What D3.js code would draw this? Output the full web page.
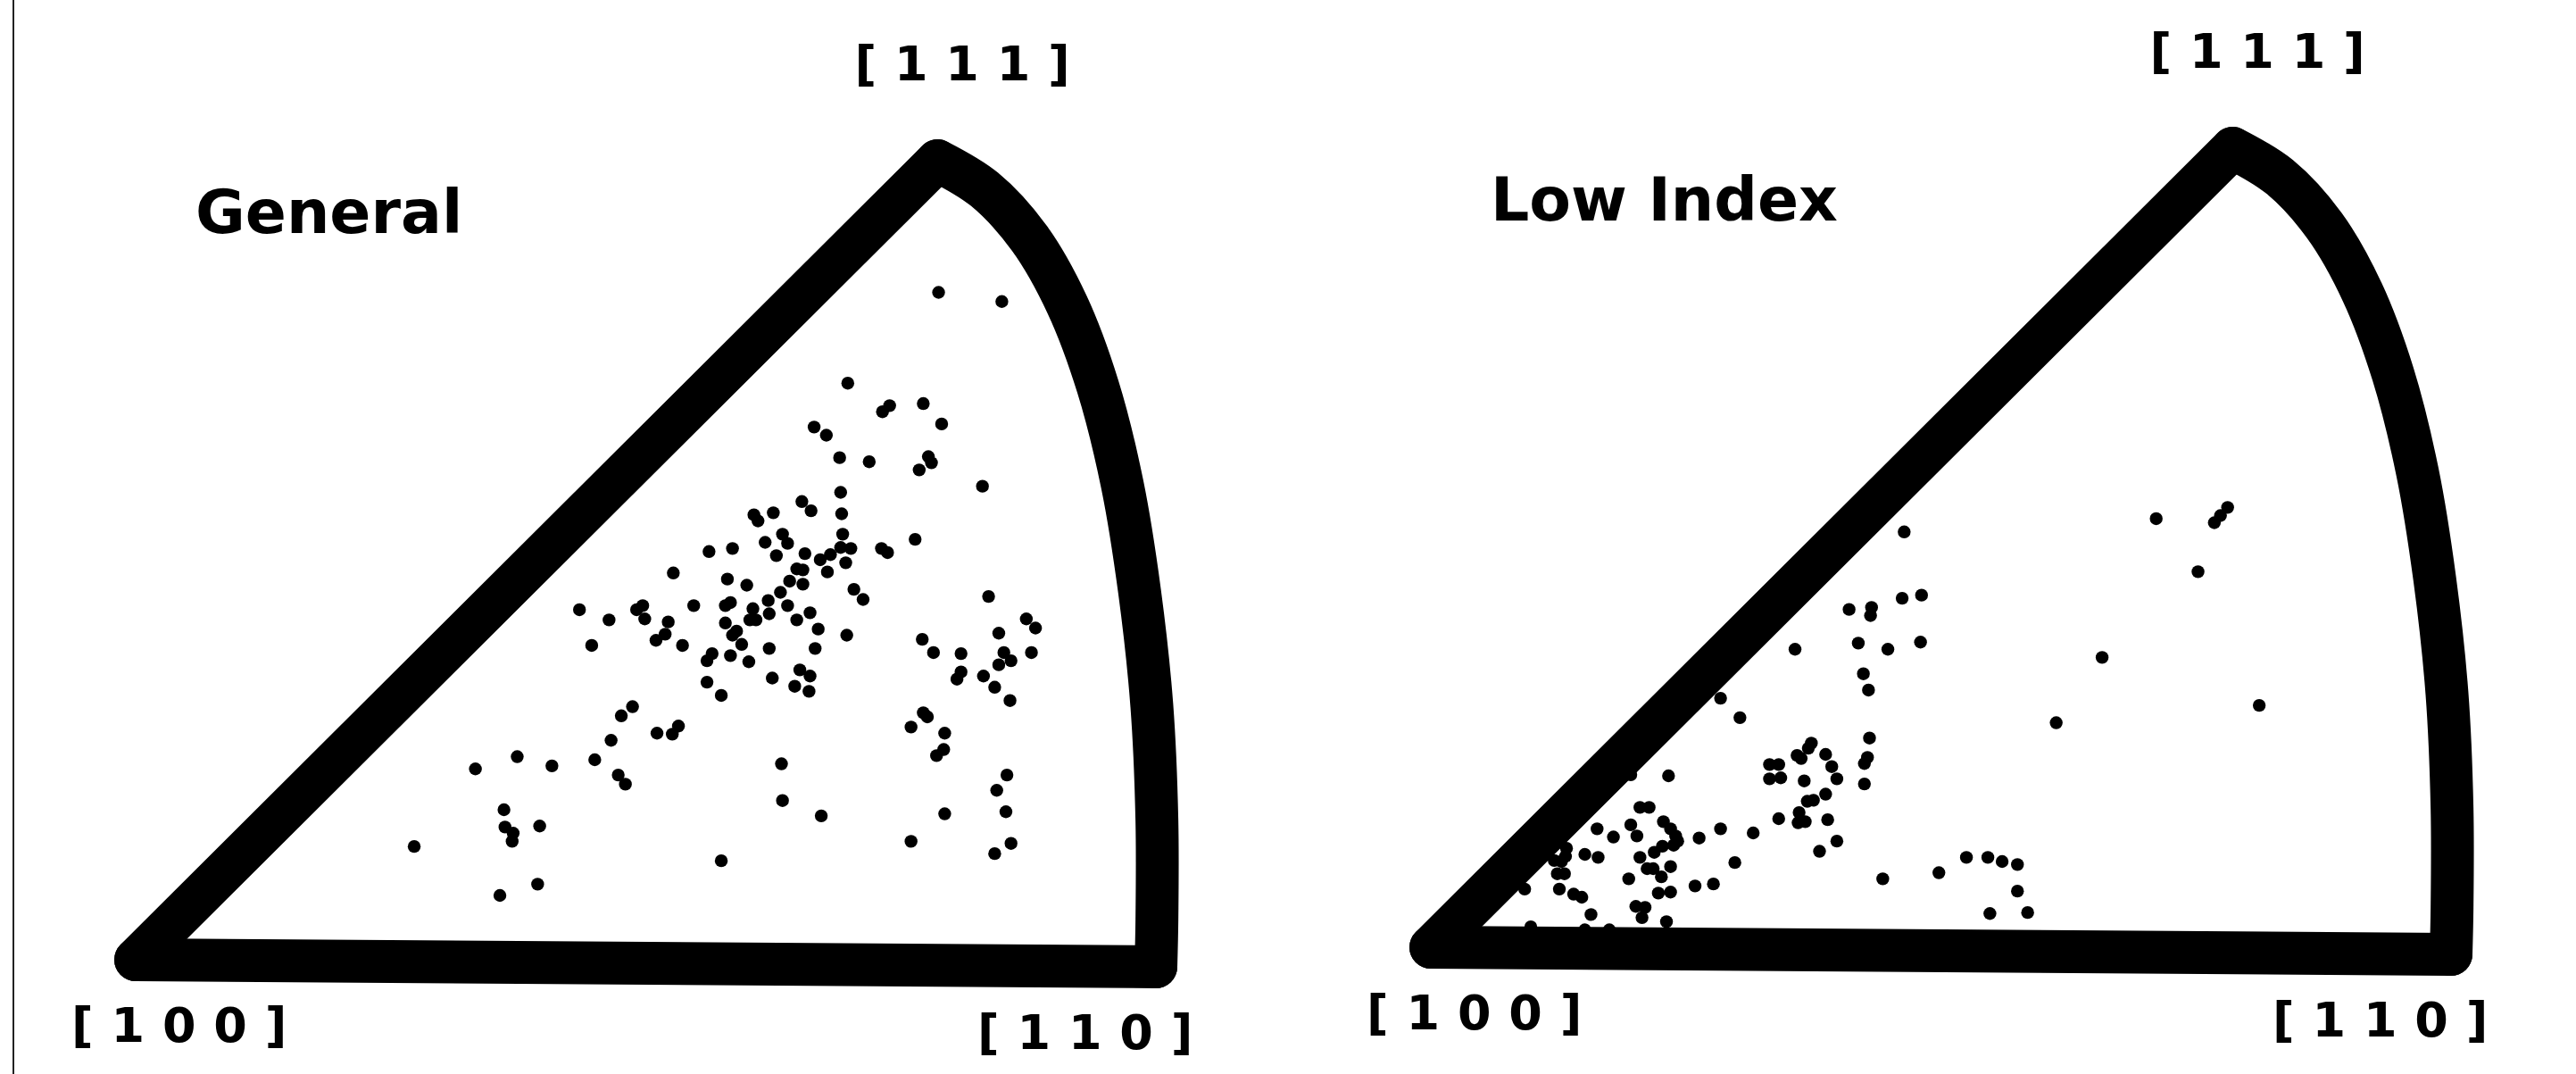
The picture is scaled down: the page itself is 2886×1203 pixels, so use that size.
<!DOCTYPE html>
<html>
<head>
<meta charset="utf-8">
<script src="https://cdn.jsdelivr.net/npm/d3@7"></script>
<style>
  body { margin: 0; background: #fff; }
  svg { display: block; }
</style>
</head>
<body>
<div id="chart-area"></div>
<script>
/*
*    Inverse pole figures (standard stereographic triangle), two panels
*/

const WIDTH = 2886
const HEIGHT = 1203
const UNIT = 1.143   // px per sketch unit ([100] -> [110] = 1000 units)

const panelTitles = ["General", "Low Index"]
const cornerLabels = ["[ 1 0 0 ]", "[ 1 1 0 ]", "[ 1 1 1 ]"]

// corners of the triangle: [100], [110], [111]
const cornerPoints = [[0, 0], [1000, -7], [786, 783]]
// the [110] - [111] edge (great circle arc)
const arcPoints = [[1000, -7], [1001, 39], [1001, 136], [996, 249], [984, 361], [967, 466],
  [943, 562], [913, 642], [876, 707], [832, 755], [786, 783]]

// pole positions, sketch units (x along [100]-[110], y up)
const generalPoles = [
  [787,654],[849,645],[698,565],[739,543],[732,537],[772,545],[790,525],[665,522],[677,514],[690,492],
  [719,488],[777,493],[780,487],[768,480],[830,464],[691,458],[653,449],[662,440],[625,438],[606,436],
  [610,430],[692,437],[634,417],[693,417],[617,409],[639,408],[585,403],[691,404],[701,403],[731,403],
  [737,399],[764,412],[628,396],[656,398],[671,392],[681,397],[696,389],[648,383],[654,382],[678,380],
  [580,373],[599,367],[641,371],[654,368],[704,363],[562,400],[527,379],
  [632,360],[713,353],[836,356],[583,350],[578,347],[620,352],[621,339],[639,347],[605,344],[602,333],
  [608,333],[648,333],[661,340],[669,324],[697,318],[578,330],[589,322],[585,318],[594,309],[583,298],
  [601,292],[621,305],[666,305],[651,284],[661,278],[624,276],[646,268],[660,263],[574,259],
  [873,334],[882,325],[846,320],[771,314],[782,301],[809,300],[851,301],[858,293],[846,289],[878,301],
  [809,282],[805,275],[831,278],[842,267],[857,254],[772,242],[776,238],[760,228],[793,222],[792,206],
  [785,200],[633,192],[634,156],[672,141],[793,143],[854,181],[844,166],[853,145],[760,116],[858,114],
  [842,104],[574,97],
  [435,343],[464,333],[447,308],[491,343],[497,347],[499,334],[522,331],[519,319],[510,313],[536,308],
  [547,347],[565,300],[560,293],[560,272],[487,248],[476,239],[466,215],[450,196],[511,222],[532,229],
  [526,221],[374,199],[333,187],[408,190],[473,181],[480,172],[361,147],[396,131],[362,130],[370,124],
  [369,116],[273,111],[394,74],[357,63]
]

const lowIndexPoles = [
  [284,244],[303,225],[233,168],[196,169],[332,179],[341,179],[332,165],[343,166],[205,137],[214,137],
  [341,126],[196,120],[202,109],[163,116],[179,108],[228,123],[235,116],[240,109],[242,104],[238,100],
  [227,99],[219,93],[263,107],[284,116],[316,112],[298,83],[133,97],[132,89],[121,85],[128,84],
  [151,91],[164,88],[205,88],[212,77],[218,77],[235,79],[226,69],[194,67],[124,72],[131,72],
  [92,57],[126,57],[140,52],[148,49],[157,32],[201,40],[210,39],[207,29],[223,53],[235,54],
  [259,60],[277,62],[231,25],[98,20],[151,17],[175,17],
  [464,407],[462,342],[481,345],[410,331],[432,333],[431,325],[419,298],[448,292],[480,299],[357,292],
  [424,268],[429,252],[613,220],[430,205],[428,186],[425,180],[425,160],[373,200],[370,195],[359,188],
  [363,185],[387,189],[393,177],[398,165],[366,163],[387,150],[369,143],[375,144],[361,132],[360,122],
  [367,123],[389,125],[398,104],[381,94],[443,67],[498,73],[525,88],[546,88],[560,84],[575,81],
  [575,55],[548,33],[585,34],
  [711,420],[781,431],[774,423],[768,416],[752,368],[658,284],[812,237]
]

const svg = d3.select("#chart-area").append("svg")
  .attr("width", WIDTH)
  .attr("height", HEIGHT)

svg.append("rect")
  .attr("width", WIDTH)
  .attr("height", HEIGHT)
  .attr("fill", "#fff")

// thin rule at the left edge
svg.append("line")
  .attr("x1", 15).attr("x2", 15)
  .attr("y1", 0).attr("y2", HEIGHT)
  .attr("stroke", "#222")
  .attr("stroke-width", 2)

const panels = [
  { title: panelTitles[0], poles: generalPoles, left: 152, bottom: 1075 },
  { title: panelTitles[1], poles: lowIndexPoles, left: 1603, bottom: 1061 }
]

panels.forEach(p => drawPanel(p))

function drawPanel(p) {
  const x = d3.scaleLinear().domain([0, 1000]).range([p.left, p.left + 1000 * UNIT])
  const y = d3.scaleLinear().domain([0, 1000]).range([p.bottom, p.bottom - 1000 * UNIT])

  const g = svg.append("g")

  const edge = d3.line()
    .x(d => x(d[0]))
    .y(d => y(d[1]))
  const arc = d3.line()
    .x(d => x(d[0]))
    .y(d => y(d[1]))
    .curve(d3.curveCatmullRom.alpha(0.5))

  const outline = [
    edge([cornerPoints[0], cornerPoints[1]]),
    edge([cornerPoints[0], cornerPoints[2]]),
    arc(arcPoints)
  ]

  g.selectAll("path.edge")
    .data(outline)
    .enter().append("path")
    .attr("class", "edge")
    .attr("d", d => d)
    .attr("fill", "none")
    .attr("stroke", "#000")
    .attr("stroke-width", 48)
    .attr("stroke-linecap", "round")
    .attr("stroke-linejoin", "round")

  // poles
  g.selectAll("circle")
    .data(p.poles)
    .enter().append("circle")
    .attr("cx", d => x(d[0]))
    .attr("cy", d => y(d[1]))
    .attr("r", 7.2)
    .attr("fill", "#000")

  // corner labels, offset (px) from their corner
  const labelOffsets = [[49, 92], [-79, 92], [28, -90]]
  cornerLabels.forEach((t, i) => {
    g.append("text")
      .attr("x", x(cornerPoints[i][0]) + labelOffsets[i][0])
      .attr("y", y(cornerPoints[i][1]) + labelOffsets[i][1])
      .attr("text-anchor", "middle")
      .attr("font-family", "DejaVu Sans, Verdana, sans-serif")
      .attr("font-weight", "bold")
      .attr("font-size", "54px")
      .attr("letter-spacing", "0.5px")
      .text(t)
  })

  // panel title
  g.append("text")
    .attr("x", x(0) + 67)
    .attr("y", y(0) - 814)
    .attr("font-family", "DejaVu Sans, Verdana, sans-serif")
    .attr("font-weight", "bold")
    .attr("font-size", "68px")
    .text(p.title)
}
</script>
</body>
</html>
